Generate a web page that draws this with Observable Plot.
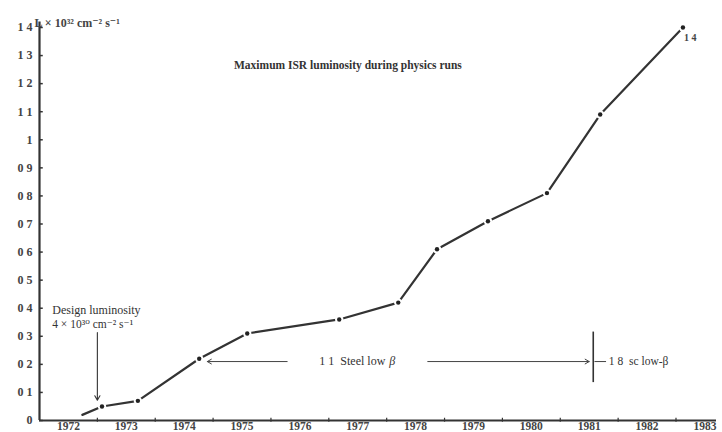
<!DOCTYPE html>
<html>
<head>
<meta charset="utf-8">
<script src="https://cdn.jsdelivr.net/npm/d3@7"></script>
<script src="https://cdn.jsdelivr.net/npm/@observablehq/plot@0.6"></script>
<style>
  html, body { margin: 0; padding: 0; background: #fff; }
  svg { display: block; }
</style>
</head>
<body>
<div id="chart"></div>
<script>
// Data
const years  = [1972.74, 1973.08, 1973.70, 1974.76, 1975.59, 1977.18, 1978.20, 1978.87, 1979.75, 1980.77, 1981.69, 1983.12];
const lumin  = [0.02,    0.05,    0.07,    0.22,    0.31,    0.36,    0.42,    0.61,    0.71,    0.81,    1.09,    1.40];
const marked = [false,   true,    true,    true,    true,    true,    true,    true,    true,    true,    true,    true];

const yTicks = [0, 0.1, 0.2, 0.3, 0.4, 0.5, 0.6, 0.7, 0.8, 0.9, 1.0, 1.1, 1.2, 1.3, 1.4];
const yTickLabels = ["0", "0 1", "0 2", "0 3", "0 4", "0 5", "0 6", "0 7", "0 8", "0 9", "1", "1 1", "1 2", "1 3", "1 4"];
const xLabelYears = [1972, 1973, 1974, 1975, 1976, 1977, 1978, 1979, 1980, 1981, 1982, 1983];
const xTickYears = [1973, 1974, 1975, 1976, 1977, 1978, 1979, 1980, 1981, 1982, 1983];

const data = years.map((x, i) => ({x, y: lumin[i], m: marked[i]}));
const dots = data.filter(d => d.m);
const yT = yTicks.map((v, i) => ({v, label: yTickLabels[i]}));

const font = "'Liberation Serif', 'DejaVu Serif', serif";
const txt = "#444";

const chart = Plot.plot({
  width: 722,
  height: 432,
  marginLeft: 39,
  marginRight: 6,
  marginTop: 27,
  marginBottom: 12,
  style: {fontFamily: font, background: "#fff"},
  x: {domain: [1972, 1983.7], axis: null},
  y: {domain: [0, 1.4], axis: null},
  marks: [
    // axes lines
    Plot.ruleY([0], {x1: 1972, x2: 1983.7, stroke: "#333", strokeWidth: 2}),
    Plot.ruleX([1972], {y1: 0, y2: 1.42, stroke: "#333", strokeWidth: 2.2}),
    // y ticks (inside) and labels
    Plot.ruleY(yT, {y: "v", x1: 1972, x2: 1972.065, stroke: "#333", strokeWidth: 1.5}),
    Plot.text(yT, {x: () => 1972, y: "v", text: "label", textAnchor: "end", dx: -7,
      fontSize: 12, fontWeight: "bold", fill: txt}),
    // x ticks and labels
    Plot.ruleX(xTickYears, {y1: -0.006, y2: 0.008, stroke: "#333", strokeWidth: 1.2}),
    Plot.text(xLabelYears, {x: d => d + 0.5, y: () => 0, text: d => String(d), lineAnchor: "top", dy: 1.5,
      fontSize: 11.5, fontWeight: "bold", fill: txt}),
    // axis title
    Plot.text(["L × 10³² cm⁻² s⁻¹"], {x: () => 1972, y: () => 1.414, textAnchor: "start", dx: -5,
      fontSize: 12, fontWeight: "bold", fill: txt}),
    // chart title
    Plot.text(["Maximum ISR luminosity during physics runs"], {x: () => 1977.33, y: () => 1.265,
      fontSize: 11.5, fontWeight: "bold", fill: "#333"}),
    // data line with gaps around points
    Plot.line(data, {x: "x", y: "y", stroke: "#333", strokeWidth: 2.2}),
    Plot.dot(dots, {x: "x", y: "y", r: 4.2, fill: "#fff", stroke: "none"}),
    Plot.dot(dots, {x: "x", y: "y", r: 2.2, fill: "#222", stroke: "none"}),
    // label at last point
    Plot.text(["1 4"], {x: () => 1983.12, y: () => 1.364, textAnchor: "start", dx: 1,
      fontSize: 10, fontWeight: "bold", fill: txt}),
    // design luminosity annotation
    Plot.text(["Design luminosity"], {x: () => 1972.22, y: () => 0.392, textAnchor: "start",
      fontSize: 12, fill: "#333"}),
    Plot.text(["4 × 10³⁰ cm⁻² s⁻¹"], {x: () => 1972.22, y: () => 0.343, textAnchor: "start",
      fontSize: 11.5, fill: "#333"}),
    Plot.arrow([0], {x1: () => 1973.0, y1: () => 0.313, x2: () => 1973.0, y2: () => 0.072,
      stroke: "#333", strokeWidth: 1.1, headLength: 7}),
    // Steel low beta
    Plot.arrow([0], {x1: () => 1976.28, y1: () => 0.21, x2: () => 1974.9, y2: () => 0.21,
      stroke: "#444", strokeWidth: 1, headLength: 7}),
    Plot.text(["1 1  Steel low"], {x: () => 1978.15, y: () => 0.21, textAnchor: "end", dx: -10,
      fontSize: 12, fill: "#333"}),
    Plot.text(["β"], {x: () => 1978.15, y: () => 0.21, textAnchor: "end",
      fontSize: 12, fontStyle: "italic", fill: "#333"}),
    Plot.arrow([0], {x1: () => 1978.71, y1: () => 0.21, x2: () => 1981.5, y2: () => 0.21,
      stroke: "#444", strokeWidth: 1, headLength: 7}),
    Plot.ruleX([1981.57], {y1: 0.135, y2: 0.315, stroke: "#333", strokeWidth: 1.6}),
    Plot.ruleY([0.21], {x1: 1981.6, x2: 1981.8, stroke: "#444", strokeWidth: 1}),
    Plot.text(["1 8  sc low-β"], {x: () => 1981.84, y: () => 0.21, textAnchor: "start",
      fontSize: 11.5, fill: "#333"})
  ]
});
document.getElementById("chart").appendChild(chart);
</script>
</body>
</html>
